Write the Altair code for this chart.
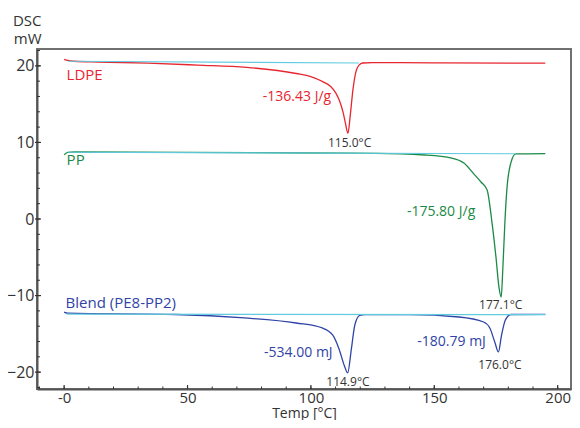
import altair as alt
import pandas as pd

FONT = "Open Sans"

# ---- curve data (Temp °C, DSC mW) ----
ldpe_t = [0, 1.5, 4, 14, 34, 54, 74, 94, 100, 105, 108, 110, 111.5, 113, 114, 115, 116, 117, 118, 119.5, 121, 125, 150, 195]
ldpe_v = [20.85, 20.7, 20.6, 20.5, 20.36, 20.1, 19.8, 19.0, 18.6, 17.9, 17.3, 16.5, 15.5, 14.0, 12.5, 11.2, 13.7, 16.8, 18.9, 20.1, 20.37, 20.42, 20.4, 20.35]

pp_t = [0, 1.5, 4, 50, 100, 126, 146, 157, 162, 166, 169, 171.4, 173.4, 175, 176.2, 177.1, 177.8, 178.6, 179.4, 181, 183, 195]
pp_v = [8.4, 8.7, 8.75, 8.7, 8.62, 8.58, 8.36, 7.96, 7.3, 5.9, 4.8, 3.8, -0.5, -5.0, -8.9, -10.2, -6.3, -0.5, 3.8, 7.3, 8.5, 8.55]

blend_t = [0, 1.5, 45, 73, 94, 104.6, 108.8, 111.4, 113.6, 114.9, 116.4, 117.8, 119.8, 122, 140, 160, 170, 172.5, 174.5, 176, 177.2, 178.8, 181, 195]
blend_v = [-12.15, -12.3, -12.47, -12.92, -13.58, -14.23, -15.14, -16.97, -19.19, -20.1, -16.97, -13.84, -12.6, -12.5, -12.5, -12.8, -13.45, -14.23, -16.06, -17.36, -15.27, -13.2, -12.47, -12.45]

# ---- integration baselines ----
ldpe_base_t = [1.5, 119.5]
ldpe_base_v = [20.6, 20.37]
pp_base_t = [1.5, 183]
pp_base_v = [8.72, 8.52]
blend_base_t = [1, 195]
blend_base_v = [-12.42, -12.5]

# ---- annotations ----
series_names = ["LDPE", "PP", "Blend"]
series_colors = ["#e8262f", "#1b8a47", "#2f44a6"]
text_colors = ["#e8404a", "#2a9a55", "#4a5fb5"]

name_labels = ["LDPE", "PP", "Blend (PE8-PP2)"]
name_t = [1, 1, 0.6]
name_v = [18.8, 7.7, -11.0]

enth_labels = ["-136.43 J/g", "-175.80 J/g", "-534.00 mJ", "-180.79 mJ"]
enth_series = ["LDPE", "PP", "Blend", "Blend"]
enth_t = [108.2, 166.6, 108.8, 170.9]
enth_v = [15.9, 0.9, -17.5, -16.0]

peak_labels = ["115.0°C", "177.1°C", "114.9°C", "176.0°C"]
peak_t = [115.7, 176.9, 115.0, 176.6]
peak_v = [9.9, -11.2, -21.3, -19.1]

x_major = [0, 50, 100, 150, 200]
x_minor = list(range(-10, 201, 10))
y_major = [-20, -10, 0, 10, 20]
y_minor = list(range(-22, 23, 2))

X_DOMAIN = [-11, 205.4]
Y_DOMAIN = [-22.2, 22.2]
W, H = 534, 340

rows = []
for name, ts, vs in [("LDPE", ldpe_t, ldpe_v), ("PP", pp_t, pp_v), ("Blend", blend_t, blend_v)]:
    for i, (t, v) in enumerate(zip(ts, vs)):
        rows.append({"series": name, "t": t, "v": v, "o": i})
curves = pd.DataFrame(rows)

brows = []
for name, ts, vs in [("LDPE", ldpe_base_t, ldpe_base_v), ("PP", pp_base_t, pp_base_v), ("Blend", blend_base_t, blend_base_v)]:
    for i, (t, v) in enumerate(zip(ts, vs)):
        brows.append({"series": name, "t": t, "v": v, "o": i})
bases = pd.DataFrame(brows)

names_df = pd.DataFrame({"label": name_labels, "series": series_names, "t": name_t, "v": name_v})
enth_df = pd.DataFrame({"label": enth_labels, "series": enth_series, "t": enth_t, "v": enth_v})
peak_df = pd.DataFrame({"label": peak_labels, "t": peak_t, "v": peak_v})

xscale = alt.Scale(domain=X_DOMAIN, nice=False, zero=False)
yscale = alt.Scale(domain=Y_DOMAIN, nice=False, zero=False)

x_axis = alt.Axis(values=x_major, title="Temp [°C]", ticks=False, grid=False,
                  labelExpr="datum.value == 0 ? '-0' : datum.label",
                  labelFont=FONT, labelFontSize=15, labelColor="#333",
                  labelPadding=1, titleFont=FONT, titleFontSize=14,
                  titleFontWeight="normal", titleColor="#333",
                  titleBaseline="alphabetic", titleY=28,
                  domainColor="#555", domainWidth=2)
y_axis = alt.Axis(values=y_major, title=["DSC", "mW"], ticks=False, grid=False,
                  labelFont=FONT, labelFontSize=16, labelColor="#333",
                  labelPadding=3, titleFont=FONT, titleFontSize=15,
                  titleFontWeight="normal", titleColor="#333", titleAngle=0,
                  titleAlign="right", titleBaseline="top", titleX=4, titleY=-36,
                  titleLineHeight=18, domainColor="#555", domainWidth=2)

color_scale = alt.Scale(domain=series_names, range=series_colors)
text_scale = alt.Scale(domain=series_names, range=text_colors)

lines = alt.Chart(curves).mark_line(strokeWidth=1.3, interpolate="monotone").encode(
    x=alt.X("t:Q", scale=xscale, axis=x_axis),
    y=alt.Y("v:Q", scale=yscale, axis=y_axis),
    color=alt.Color("series:N", scale=color_scale, legend=None),
    order="o:Q",
)

baselines = alt.Chart(bases).mark_line(strokeWidth=1.2, color="#62cbe0").encode(
    x=alt.X("t:Q", scale=xscale),
    y=alt.Y("v:Q", scale=yscale),
    detail="series:N",
    order="o:Q",
)

name_text = alt.Chart(names_df).mark_text(align="left", baseline="middle", font=FONT, fontSize=15).encode(
    x=alt.X("t:Q", scale=xscale),
    y=alt.Y("v:Q", scale=yscale),
    text="label:N",
    color=alt.Color("series:N", scale=text_scale, legend=None),
)

enth_text = alt.Chart(enth_df).mark_text(align="right", baseline="middle", font=FONT, fontSize=14).encode(
    x=alt.X("t:Q", scale=xscale),
    y=alt.Y("v:Q", scale=yscale),
    text="label:N",
    color=alt.Color("series:N", scale=text_scale, legend=None),
)

peak_text = alt.Chart(peak_df).mark_text(align="center", baseline="middle", font=FONT, fontSize=12, color="#333").encode(
    x=alt.X("t:Q", scale=xscale),
    y=alt.Y("v:Q", scale=yscale),
    text="label:N",
)

xmaj = alt.Chart(pd.DataFrame({"t": x_major})).mark_rule(color="#333", strokeWidth=1.2).encode(
    x=alt.X("t:Q", scale=xscale), y=alt.value(H), y2=alt.value(H - 4))
xmin = alt.Chart(pd.DataFrame({"t": x_minor})).mark_rule(color="#333", strokeWidth=1).encode(
    x=alt.X("t:Q", scale=xscale), y=alt.value(H), y2=alt.value(H - 2.5))
ymaj = alt.Chart(pd.DataFrame({"v": y_major})).mark_rule(color="#333", strokeWidth=1.2).encode(
    y=alt.Y("v:Q", scale=yscale), x=alt.value(-2), x2=alt.value(4))
ymin = alt.Chart(pd.DataFrame({"v": y_minor})).mark_rule(color="#333", strokeWidth=1).encode(
    y=alt.Y("v:Q", scale=yscale), x=alt.value(0), x2=alt.value(3))

chart = alt.layer(lines, baselines, name_text, enth_text, peak_text, xmaj, xmin, ymaj, ymin).properties(
    width=W, height=H,
    autosize=alt.AutoSizeParams(type="none"),
    padding={"left": 29, "top": 41, "right": 1, "bottom": 31},
    background="white",
).configure_view(stroke="#707070", strokeWidth=2)

chart.save("out.html", embed_options={"renderer": "svg", "actions": False})
